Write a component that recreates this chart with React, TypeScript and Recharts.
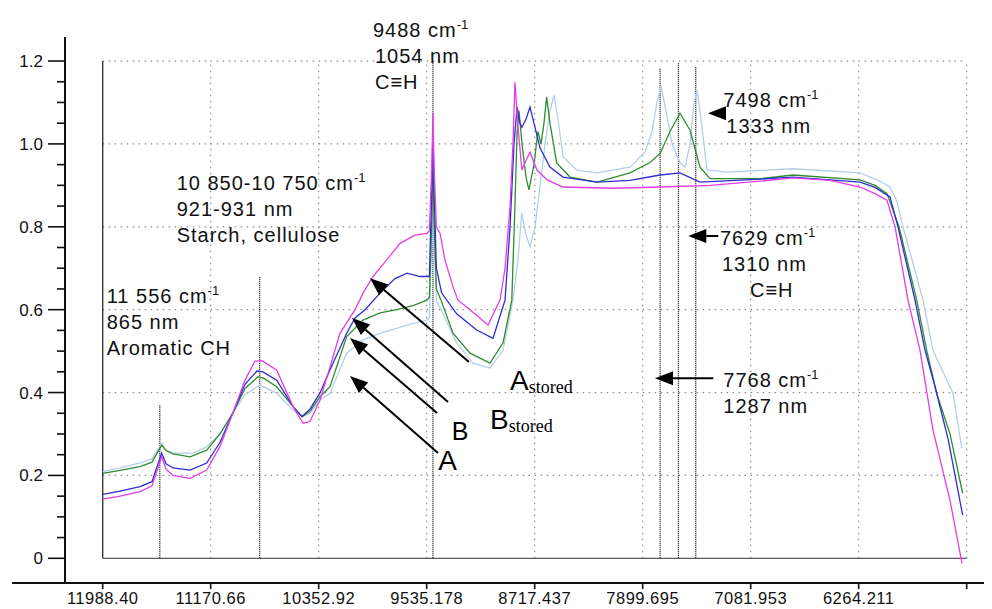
import React from 'react';
import { LineChart, Line, XAxis, YAxis, ReferenceLine, ReferenceDot } from 'recharts';

// ---------- axis ticks ----------
const xTicks = [11988.4, 11170.66, 10352.92, 9535.178, 8717.437, 7899.695, 7081.953, 6264.211, 5446.469];
const xTickLabels = ['11988.40', '11170.66', '10352.92', '9535.178', '8717.437', '7899.695', '7081.953', '6264.211', ''];
const yMajor = [0, 0.2, 0.4, 0.6, 0.8, 1.0, 1.2];
const yTickLabels = ['0', '0.2', '0.4', '0.6', '0.8', '1.0', '1.2'];
const yAllTicks = [0, 0.05, 0.1, 0.15, 0.2, 0.25, 0.3, 0.35, 0.4, 0.45, 0.5, 0.55, 0.6, 0.65, 0.7, 0.75, 0.8, 0.85, 0.9, 0.95, 1.0, 1.05, 1.1, 1.15, 1.2];

// ---------- spectra (wavenumber cm-1, absorbance) ----------
const magentaWn = [11988, 11857, 11706, 11615, 11542, 11509, 11456, 11327, 11201, 11100, 11002, 10911, 10835, 10782, 10671, 10547, 10472, 10419, 10343, 10267, 10192, 10078, 10017, 9942, 9813, 9737, 9624, 9533, 9515, 9496, 9488, 9480, 9462, 9434, 9397, 9336, 9298, 9207, 9071, 8980, 8942, 8904, 8882, 8867, 8844, 8814, 8783, 8753, 8700, 8624, 8503, 8124, 7768, 7390, 7011, 6762, 6481, 6254, 6141, 6050, 5989, 5891, 5800, 5702, 5573, 5482];
const magentaAbs = [0.143, 0.15, 0.161, 0.175, 0.245, 0.215, 0.2, 0.193, 0.213, 0.27, 0.351, 0.43, 0.476, 0.477, 0.454, 0.366, 0.326, 0.33, 0.382, 0.462, 0.543, 0.6, 0.64, 0.68, 0.73, 0.76, 0.78, 0.784, 0.79, 0.95, 1.075, 0.95, 0.8, 0.784, 0.72, 0.655, 0.623, 0.6, 0.563, 0.623, 0.7, 0.85, 1.0, 1.149, 1.04, 0.937, 0.96, 0.98, 0.937, 0.913, 0.896, 0.893, 0.896, 0.9, 0.91, 0.918, 0.912, 0.896, 0.88, 0.864, 0.8, 0.623, 0.502, 0.31, 0.14, -0.012];

const blueWn = [11988, 11857, 11706, 11615, 11542, 11509, 11456, 11327, 11201, 11100, 11002, 10911, 10820, 10775, 10671, 10547, 10479, 10419, 10343, 10267, 10141, 10078, 10002, 9889, 9775, 9684, 9586, 9515, 9496, 9488, 9480, 9462, 9422, 9308, 9157, 9033, 8942, 8904, 8874, 8851, 8829, 8814, 8783, 8753, 8715, 8677, 8602, 8503, 8246, 7996, 7768, 7617, 7466, 7011, 6762, 6254, 6141, 6027, 5967, 5838, 5762, 5686, 5586, 5477];
const blueAbs = [0.154, 0.162, 0.173, 0.185, 0.254, 0.228, 0.218, 0.213, 0.23, 0.28, 0.351, 0.42, 0.452, 0.45, 0.43, 0.366, 0.342, 0.36, 0.399, 0.455, 0.543, 0.58, 0.6, 0.64, 0.675, 0.688, 0.68, 0.68, 0.9, 1.04, 0.9, 0.7, 0.64, 0.59, 0.551, 0.531, 0.623, 0.8, 1.0, 1.089, 1.05, 1.04, 1.06, 1.089, 1.04, 0.99, 0.944, 0.92, 0.908, 0.912, 0.925, 0.93, 0.908, 0.915, 0.92, 0.908, 0.895, 0.872, 0.8, 0.623, 0.502, 0.414, 0.286, 0.104];

const greenWn = [11988, 11857, 11706, 11615, 11542, 11509, 11456, 11327, 11201, 11100, 11002, 10911, 10813, 10767, 10671, 10547, 10479, 10419, 10343, 10267, 10141, 10017, 9889, 9762, 9639, 9533, 9515, 9496, 9488, 9480, 9462, 9427, 9336, 9207, 9056, 8957, 8891, 8867, 8851, 8836, 8814, 8783, 8761, 8723, 8693, 8670, 8647, 8627, 8602, 8551, 8450, 8246, 7996, 7844, 7768, 7693, 7617, 7541, 7466, 7390, 7011, 6762, 6254, 6141, 6050, 5959, 5825, 5749, 5674, 5573, 5477];
const greenAbs = [0.205, 0.212, 0.221, 0.232, 0.273, 0.26, 0.252, 0.245, 0.261, 0.3, 0.351, 0.41, 0.438, 0.434, 0.414, 0.366, 0.342, 0.355, 0.39, 0.414, 0.535, 0.575, 0.592, 0.6, 0.61, 0.623, 0.63, 0.82, 0.96, 0.82, 0.65, 0.623, 0.543, 0.495, 0.471, 0.52, 0.623, 0.85, 1.026, 1.08, 1.0, 0.92, 0.889, 0.95, 1.03, 1.0, 1.05, 1.113, 1.05, 0.954, 0.92, 0.908, 0.93, 0.955, 0.977, 1.03, 1.074, 1.033, 0.944, 0.916, 0.916, 0.925, 0.913, 0.9, 0.88, 0.8, 0.623, 0.502, 0.398, 0.3, 0.157];

const lightWn = [11988, 11857, 11706, 11615, 11542, 11509, 11456, 11305, 11201, 11100, 11002, 10911, 10797, 10671, 10547, 10472, 10419, 10343, 10267, 10141, 10017, 9889, 9639, 9533, 9515, 9496, 9488, 9480, 9462, 9427, 9308, 9185, 9056, 8957, 8882, 8844, 8816, 8783, 8753, 8715, 8677, 8639, 8602, 8571, 8541, 8503, 8399, 8246, 7996, 7882, 7829, 7792, 7761, 7723, 7678, 7617, 7579, 7541, 7511, 7488, 7458, 7413, 7261, 6762, 6254, 6103, 6027, 5974, 5929, 5777, 5702, 5550, 5484];
const lightAbs = [0.209, 0.218, 0.23, 0.24, 0.278, 0.262, 0.254, 0.254, 0.269, 0.3, 0.351, 0.395, 0.418, 0.398, 0.357, 0.342, 0.35, 0.382, 0.398, 0.495, 0.527, 0.543, 0.567, 0.575, 0.58, 0.78, 0.92, 0.78, 0.62, 0.6, 0.519, 0.471, 0.459, 0.502, 0.623, 0.72, 0.833, 0.78, 0.752, 0.8, 0.9, 1.0, 1.08, 1.118, 1.06, 0.969, 0.937, 0.93, 0.944, 0.98, 1.03, 1.1, 1.14, 1.08, 1.0, 0.955, 0.944, 1.0, 1.1, 1.13, 1.06, 0.937, 0.932, 0.94, 0.93, 0.91, 0.896, 0.86, 0.8, 0.623, 0.502, 0.398, 0.266];

// ---------- marked band positions ----------
const markerWn = [11556, 10800, 9488, 7768, 7629, 7498];
const markerTop = [0.37, 0.679, 1.2, 1.183, 1.195, 1.185];

// ---------- frame ----------
const X_FIRST = 11988.4;
const X_LAST = 5446.469;
const Y_TOP = 1.2;
const X_DOMAIN: [number, number] = [5254.9, 12273.85];
const Y_DOMAIN: [number, number] = [-0.0596, 1.258];
const gridX = [11170.66, 10352.92, 9535.178, 8717.437, 7899.695, 7081.953, 6264.211, 5446.469];
const gridY = [0.2, 0.4, 0.6, 0.8, 1.0, 1.2];

// ---------- annotations ----------
type AnnoLine = { t: string; sup?: string; dx?: number };
const annotations: { x: number; y: number; lines: AnnoLine[] }[] = [
  { x: 9941.8, y: 1.2587, lines: [{ t: '9488 cm', sup: '-1' }, { t: '1054 nm', dx: 2 }, { t: 'C≡H', dx: 2 }] },
  { x: 11428.1, y: 0.8888, lines: [{ t: '10 850-10 750 cm', sup: '-1' }, { t: '921-931 nm' }, { t: 'Starch, cellulose' }] },
  { x: 11958.1, y: 0.6168, lines: [{ t: '11 556 cm', sup: '-1' }, { t: '865 nm' }, { t: 'Aromatic CH' }] },
  { x: 7289.4, y: 1.0898, lines: [{ t: '7498 cm', sup: '-1' }, { t: '1333 nm', dx: 3 }] },
  { x: 7314.4, y: 0.756, lines: [{ t: '7629 cm', sup: '-1' }, { t: '1310 nm', dx: 2 }, { t: 'C≡H', dx: 30 }] },
  { x: 7289.4, y: 0.4126, lines: [{ t: '7768 cm', sup: '-1' }, { t: '1287 nm' }] },
];
const seriesLabels: { x: number; y: number; main: string; sub?: string; size: number }[] = [
  { x: 8904.5, y: 0.4061, main: 'A', sub: 'stored', size: 28 },
  { x: 9055.9, y: 0.3113, main: 'B', sub: 'stored', size: 28 },
  { x: 9345.9, y: 0.2855, main: 'B', size: 25 },
  { x: 9447.4, y: 0.2131, main: 'A', size: 28 },
];
const arrows: { from: [number, number]; to: [number, number] }[] = [
  { from: [9214.9, 0.4737], to: [9964.5, 0.676] },
  { from: [9373.9, 0.377], to: [10100.8, 0.58] },
  { from: [9457.2, 0.3506], to: [10115.9, 0.5316] },
  { from: [9449.6, 0.254], to: [10115.9, 0.44] },
  { from: [7276.5, 1.074], to: [7405.3, 1.074] },
  { from: [7327.3, 0.7777], to: [7554.4, 0.7777] },
  { from: [7365.1, 0.4344], to: [7806.5, 0.4344] },
];

const FONT = '"Liberation Sans", Arial, Helvetica, sans-serif';
const SERIF = '"Liberation Serif", "Times New Roman", serif';

const toPoints = (wn: number[], abs: number[]) => wn.map((x, i) => ({ x, y: abs[i] }));

const series = [
  { name: 'A', color: '#b3cfe8', data: toPoints(lightWn, lightAbs) },
  { name: 'B', color: '#2f8c2f', data: toPoints(greenWn, greenAbs) },
  { name: 'B stored', color: '#2d2dd2', data: toPoints(blueWn, blueAbs) },
  { name: 'A stored', color: '#e63ce6', data: toPoints(magentaWn, magentaAbs) },
];

const XTick = (props: any) => {
  const { x, y, payload } = props;
  const i = xTicks.findIndex((t) => Math.abs(t - payload.value) < 1e-3);
  const label = i >= 0 ? xTickLabels[i] : '';
  return (
    <text x={x} y={y + 15} textAnchor="middle" fontSize={16.5} letterSpacing={0.5} fill="#111" fontFamily={FONT}>
      {label}
    </text>
  );
};

const YTick = (props: any) => {
  const { x, y, payload } = props;
  const idx = yMajor.findIndex((m) => Math.abs(m - payload.value) < 1e-6);
  const major = idx >= 0;
  return (
    <g>
      <line x1={x - (major ? 17 : 8)} x2={x} y1={y} y2={y} stroke="#111" strokeWidth={1.6} />
      {major && (
        <text x={x - 22} y={y + 6} textAnchor="end" fontSize={17} fill="#111" fontFamily={FONT}>
          {yTickLabels[idx]}
        </text>
      )}
    </g>
  );
};

const ArrowShape = (p: any) => {
  const { x1, y1, x2, y2 } = p;
  const ang = Math.atan2(y2 - y1, x2 - x1);
  const L = 18;
  const W = 7;
  const bx = x2 - L * Math.cos(ang);
  const by = y2 - L * Math.sin(ang);
  const px = -Math.sin(ang) * W;
  const py = Math.cos(ang) * W;
  return (
    <g>
      <line x1={x1} y1={y1} x2={bx} y2={by} stroke="#000" strokeWidth={2} />
      <polygon points={`${x2},${y2} ${bx + px},${by + py} ${bx - px},${by - py}`} fill="#000" />
    </g>
  );
};

const makeAnno = (lines: AnnoLine[]) => (p: any) => (
  <g>
    {lines.map((l, i) => (
      <text key={i} x={p.cx + (l.dx || 0)} y={p.cy + i * 26} fontSize={20} letterSpacing={1} fill="#111" fontFamily={FONT}>
        {l.t}
        {l.sup && (
          <tspan dy={-8} fontSize={13} letterSpacing={0}>
            {l.sup}
          </tspan>
        )}
      </text>
    ))}
  </g>
);

const makeSeriesLabel = (main: string, size: number, sub?: string) => (p: any) => (
  <text x={p.cx} y={p.cy} fontSize={size} fill="#000" fontFamily={FONT}>
    {main}
    {sub && (
      <tspan dy={3} fontSize={18} fontFamily={SERIF}>
        {sub}
      </tspan>
    )}
  </text>
);

export default function App() {
  return (
    <div style={{ width: 984, height: 601 }}>
      <LineChart width={984} height={601} margin={{ top: 29, right: 0, left: 0, bottom: 0 }}>
        <XAxis
          type="number"
          dataKey="x"
          domain={X_DOMAIN}
          reversed
          allowDataOverflow
          ticks={xTicks}
          interval={0}
          height={26}
          tickSize={6}
          tickMargin={0}
          axisLine={{ stroke: '#111', strokeWidth: 2 }}
          tickLine={{ stroke: '#111', strokeWidth: 1.6 }}
          tick={(p: any) => <XTick {...p} />}
        />
        <YAxis
          type="number"
          domain={Y_DOMAIN}
          allowDataOverflow
          ticks={yAllTicks}
          interval={0}
          width={57}
          tickSize={0}
          tickMargin={0}
          axisLine={{ stroke: '#111', strokeWidth: 2 }}
          tickLine={false}
          tick={(p: any) => <YTick {...p} />}
        />
        {/* extension of the x axis line to the left */}
        <ReferenceLine
          segment={[{ x: 12675, y: Y_DOMAIN[0] }, { x: X_DOMAIN[1], y: Y_DOMAIN[0] }]}
          stroke="#111"
          strokeWidth={2}
          ifOverflow="visible"
        />
        {/* dotted grid inside the frame */}
        {gridX.map((g) => (
          <ReferenceLine key={'gx' + g} segment={[{ x: g, y: 0 }, { x: g, y: Y_TOP }]} stroke="#8a8a8a" strokeWidth={1.2} strokeDasharray="1.5 4.5" ifOverflow="visible" />
        ))}
        {gridY.map((g) => (
          <ReferenceLine key={'gy' + g} segment={[{ x: X_FIRST, y: g }, { x: X_LAST, y: g }]} stroke="#8a8a8a" strokeWidth={1.2} strokeDasharray="1.5 4.5" ifOverflow="visible" />
        ))}
        {/* frame left and bottom */}
        <ReferenceLine segment={[{ x: X_FIRST, y: 0 }, { x: X_FIRST, y: Y_TOP }]} stroke="#3a3a3a" strokeWidth={1.4} ifOverflow="visible" />
        <ReferenceLine segment={[{ x: X_FIRST, y: 0 }, { x: X_LAST, y: 0 }]} stroke="#5a5a5a" strokeWidth={1.3} ifOverflow="visible" />
        {/* band markers */}
        {markerWn.map((w, i) => (
          <ReferenceLine key={'m' + w} segment={[{ x: w, y: 0 }, { x: w, y: markerTop[i] }]} stroke="#111" strokeWidth={1.3} strokeDasharray="1 1" ifOverflow="visible" />
        ))}
        {series.map((s) => (
          <Line
            key={s.name}
            name={s.name}
            data={s.data}
            dataKey="y"
            type="linear"
            stroke={s.color}
            strokeWidth={1.3}
            dot={false}
            isAnimationActive={false}
          />
        ))}
        {arrows.map((a, i) => (
          <ReferenceLine
            key={'a' + i}
            segment={[{ x: a.from[0], y: a.from[1] }, { x: a.to[0], y: a.to[1] }]}
            ifOverflow="visible"
            shape={(p: any) => <ArrowShape {...p} />}
          />
        ))}
        {annotations.map((a, i) => (
          <ReferenceDot key={'t' + i} x={a.x} y={a.y} r={0} fill="none" stroke="none" ifOverflow="visible" shape={makeAnno(a.lines)} />
        ))}
        {seriesLabels.map((s, i) => (
          <ReferenceDot key={'s' + i} x={s.x} y={s.y} r={0} fill="none" stroke="none" ifOverflow="visible" shape={makeSeriesLabel(s.main, s.size, s.sub)} />
        ))}
      </LineChart>
    </div>
  );
}
